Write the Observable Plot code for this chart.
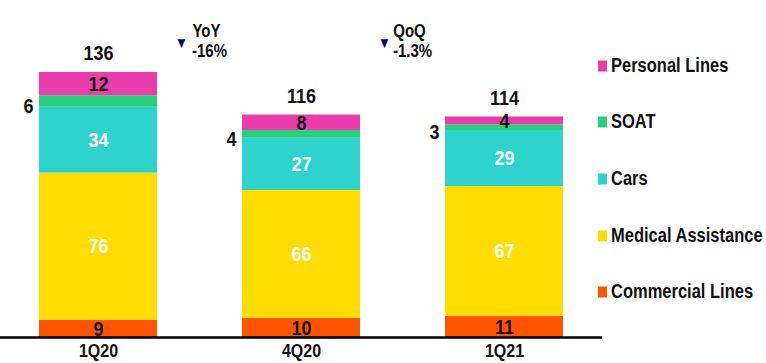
<!DOCTYPE html>
<html>
<head>
<meta charset="utf-8">
<script src="https://cdn.jsdelivr.net/npm/d3@7"></script>
<script src="https://cdn.jsdelivr.net/npm/@observablehq/plot@0.6"></script>
<style>
  html, body { margin: 0; padding: 0; background: #fff; }
  #wrap { position: relative; width: 766px; height: 363px; overflow: hidden; font-family: "Liberation Sans", Arial, sans-serif; }
  #chart { position: absolute; left: 0; top: 0; }
  #legend { position: absolute; left: 598px; top: 0; }
  .item { position: absolute; left: 0; display: flex; align-items: center; white-space: nowrap; transform: translateY(-50%); }
  .sw { width: 9px; height: 11px; margin-right: 4px; }
  .lab { display: inline-block; font-weight: bold; font-size: 16.5px; color: #111; transform: scaleY(1.17); }
</style>
</head>
<body>
<div id="wrap">
  <div id="chart"></div>
  <div id="legend"></div>
</div>
<script>
const categories = ["1Q20", "4Q20", "1Q21"];
const seriesNames = ["Commercial Lines", "Medical Assistance", "Cars", "SOAT", "Personal Lines"];
const commercialLines = [9, 10, 11];
const medicalAssistance = [76, 66, 67];
const cars = [34, 27, 29];
const soat = [6, 4, 3];
const personalLines = [12, 8, 4];
const totals = [136, 116, 114];
const seriesColors = ["#FF5500", "#FFDD00", "#2DD3CC", "#2BD07F", "#E83DAA"];
const whiteLabelSeries = ["Medical Assistance", "Cars"];
const legendOrder = ["Personal Lines", "SOAT", "Cars", "Medical Assistance", "Commercial Lines"];
const annotPeriods = ["4Q20", "1Q21"];
const annotLabels = ["YoY", "QoQ"];
const annotChanges = ["-16%", "-1.3%"];

const seriesValues = [commercialLines, medicalAssistance, cars, soat, personalLines];
const rows = [];
seriesNames.forEach((s, i) => categories.forEach((c, j) => rows.push({cat: c, series: s, value: seriesValues[i][j]})));
const totalRows = categories.map((c, j) => ({cat: c, top: d3.sum(seriesValues, v => v[j]), total: totals[j]}));
const annots = annotPeriods.map((c, i) => ({cat: c, label: annotLabels[i], change: annotChanges[i]}));

const ff = "Liberation Sans, Arial, sans-serif";
const chart = Plot.plot({
  width: 602,
  height: 363,
  marginLeft: 0,
  marginRight: 0,
  marginTop: 0,
  marginBottom: 26,
  x: {domain: categories, paddingInner: 0.42, paddingOuter: 0.19},
  y: {domain: [0, 174.2], axis: null},
  color: {domain: seriesNames, range: seriesColors},
  style: {fontFamily: ff, overflow: "visible", background: "transparent"},
  marks: [
    Plot.barY(rows, {x: "cat", y: "value", fill: "series", z: "series"}),
    Plot.ruleY([0], {stroke: "#000", strokeWidth: 2.5}),
    Plot.axisX({tickSize: 0, tickPadding: 6, fontSize: 16, fontWeight: "bold", fill: "#111", label: null}),
    Plot.text(rows, Plot.stackY({x: "cat", y: "value", z: "series",
      text: d => (d.series === "SOAT" || whiteLabelSeries.includes(d.series)) ? "" : String(d.value),
      fill: "#111", fontSize: 18, fontWeight: "bold"})),
    Plot.text(rows, Plot.stackY({x: "cat", y: "value", z: "series",
      text: d => whiteLabelSeries.includes(d.series) ? String(d.value) : "",
      fill: "#fff", fontSize: 18, fontWeight: "bold"})),
    Plot.text(rows, Plot.stackY({x: "cat", y: "value", z: "series",
      text: d => d.series === "SOAT" ? String(d.value) : "",
      fill: "#111", fontSize: 18, fontWeight: "bold", dx: -70, dy: 5})),
    Plot.text(totalRows, {x: "cat", y: "top", text: d => String(d.total), dy: -19,
      fill: "#111", fontSize: 18, fontWeight: "bold"}),
    Plot.text(annots, {x: "cat", text: "label", frameAnchor: "top", dy: 24, dx: -95,
      fill: "#111", fontSize: 15, fontWeight: "bold"}),
    Plot.text(annots, {x: "cat", text: "change", frameAnchor: "top", dy: 44, dx: -92,
      fill: "#111", fontSize: 15, fontWeight: "bold"}),
    Plot.text(annots, {x: "cat", text: () => "▼", frameAnchor: "top", dy: 37, dx: -120,
      fill: "#000080", fontSize: 13})
  ]
});
// vertical stretch of the labels, around each label's own anchor point
chart.querySelectorAll("text").forEach(t => {
  const tr = t.getAttribute("transform");
  if (tr) {
    t.setAttribute("transform", tr + " scale(1,1.17)");
  } else {
    const y = +(t.getAttribute("y") || 0);
    t.setAttribute("transform", `translate(0,${y}) scale(1,1.17) translate(0,${-y})`);
  }
});
document.getElementById("chart").appendChild(chart);

const legendTops = [66, 122, 179, 236, 292];
const legend = document.getElementById("legend");
legendOrder.forEach((s, i) => {
  const it = document.createElement("div");
  it.className = "item";
  it.style.top = legendTops[i] + "px";
  const sw = document.createElement("span");
  sw.className = "sw";
  sw.style.background = seriesColors[seriesNames.indexOf(s)];
  const lab = document.createElement("span");
  lab.className = "lab";
  lab.textContent = s;
  it.appendChild(sw);
  it.appendChild(lab);
  legend.appendChild(it);
});
</script>
</body>
</html>
